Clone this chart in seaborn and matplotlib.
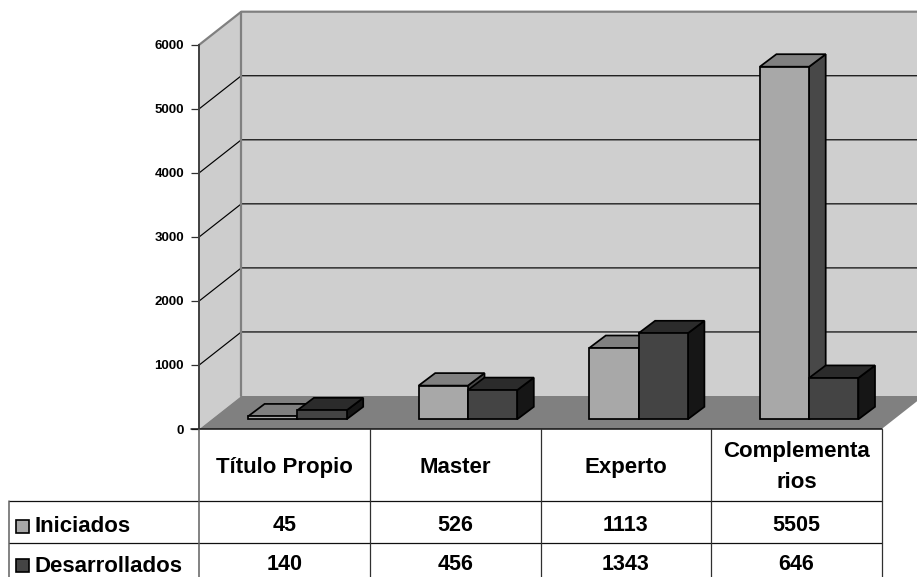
import matplotlib
matplotlib.use("Agg")
import matplotlib.pyplot as plt
import pandas as pd
import seaborn as sns
from matplotlib.patches import Polygon, Rectangle

# data
categories = ["Título Propio", "Master", "Experto", "Complementarios"]
category_labels = [["Título Propio"], ["Master"], ["Experto"], ["Complementa", "rios"]]
series_names = ["Iniciados", "Desarrollados"]
iniciados = [45, 526, 1113, 5505]
desarrollados = [140, 456, 1343, 646]
y_ticks = [0, 1000, 2000, 3000, 4000, 5000, 6000]

W, H = 917, 577
sns.set_theme(style="white")
plt.rcParams["font.family"] = ["Liberation Sans", "DejaVu Sans"]
plt.rcParams["font.weight"] = "bold"

# front colour, top colour, side colour of each series
front_cols = ["#a8a8a8", "#444444"]
top_cols = ["#808080", "#2b2b2b"]
side_cols = ["#484848", "#161616"]


def axes_box(left, right, top, bottom):
    return [left / W, 1 - bottom / H, (right - left) / W, (bottom - top) / H]


fig = plt.figure(figsize=(W / 100, H / 100), dpi=100, facecolor="white")

# overlay in pixels for the data table
tab = fig.add_axes([0, 0, 1, 1], zorder=5)
tab.set_xlim(0, W)
tab.set_ylim(H, 0)
tab.axis("off")

# front plane of the 3d box, holds the value axis
ax = fig.add_axes(axes_box(199.3, 881.7, 44.7, 429), zorder=1)
ax.set_xlim(0, 4)
ax.set_ylim(0, 6000)
ax.patch.set_alpha(0)
for s in ["top", "right", "bottom"]:
    ax.spines[s].set_visible(False)
ax.spines["left"].set_color("#404040")
ax.spines["left"].set_linewidth(1.4)
ax.spines["left"].set_zorder(2)
ax.set_xticks([])
ax.set_yticks(y_ticks)
ax.set_yticklabels([str(t) for t in y_ticks], fontsize=9.5, fontweight="bold", color="black")
ax.tick_params(axis="y", left=True, length=6, width=0.9, color="#303030", pad=5)

# walls and floor
dx = 42 / 170.6
dy = 33 / 0.06405
ax.add_patch(Polygon([(0, 0), (dx, dy), (dx, 6000 + dy), (0, 6000)], fc="#cdcdcd", ec="none", clip_on=False, zorder=0))
ax.add_patch(Polygon([(dx, dy), (4 + dx, dy), (4 + dx, 6000 + dy), (dx, 6000 + dy)], fc="#cfcfcf", ec="none", clip_on=False, zorder=0))
ax.add_patch(Polygon([(0, 0), (4, 0), (4 + dx, dy), (dx, dy)], fc="#808080", ec="none", clip_on=False, zorder=0.5))
for t in y_ticks[1:-1]:
    ax.plot([0, dx, 4 + dx], [t, t + dy, t + dy], color="black", lw=0.85, clip_on=False, zorder=0.6)
ax.plot([0, dx, 4 + dx], [6000, 6000 + dy, 6000 + dy], color="#808080", lw=1.6, clip_on=False, zorder=0.7)
ax.plot([dx, dx], [dy, 6000 + dy], color="#808080", lw=1.6, clip_on=False, zorder=0.7)

# bars sit a bit behind the front plane
bar_ax = fig.add_axes(axes_box(199.3 + 12.7, 881.7 + 12.7, 44.7 - 9.7, 429 - 9.7), zorder=2)
df = pd.DataFrame({
    "categoria": categories * 2,
    "serie": [series_names[0]] * 4 + [series_names[1]] * 4,
    "valor": iniciados + desarrollados,
})
sns.barplot(
    data=df, x="categoria", y="valor", hue="serie", order=categories, hue_order=series_names,
    palette=front_cols, saturation=1, width=0.578, gap=0, legend=False,
    edgecolor="black", linewidth=1.25, ax=bar_ax,
)
bar_ax.set_xlim(-0.5, 3.5)
bar_ax.set_ylim(0, 6000)
bar_ax.axis("off")
bar_ax.patch.set_alpha(0)

# extrude the bars seaborn drew
ddx = 16.6 / 170.6
ddy = 12.5 / 0.06405
for i, cont in enumerate(bar_ax.containers):
    for bar in cont:
        x0, h, w = bar.get_x(), bar.get_height(), bar.get_width()
        x1 = x0 + w
        bar.set_zorder(3 + 2 * i + 1)
        bar.set_clip_on(False)
        bar.set_joinstyle("miter")
        side = [(x1, 0), (x1 + ddx, ddy), (x1 + ddx, h + ddy), (x1, h)]
        top = [(x0, h), (x0 + ddx, h + ddy), (x1 + ddx, h + ddy), (x1, h)]
        bar_ax.add_patch(Polygon(side, fc=side_cols[i], ec="black", lw=1.25, clip_on=False, zorder=3 + 2 * i))
        bar_ax.add_patch(Polygon(top, fc=top_cols[i], ec="black", lw=1.25, clip_on=False, zorder=3 + 2 * i))

# data table
col_x = [199.3, 369.8, 540.5, 711, 881.7]
row_y = [429, 501, 543]
tab.plot([191, col_x[-1]], [row_y[0], row_y[0]], color="#101010", lw=1.1)
for y in row_y[1:]:
    tab.plot([9, col_x[-1]], [y, y], color="#101010", lw=0.9)
for x in col_x[1:]:
    tab.plot([x, x], [row_y[0], H], color="#303030", lw=0.9)
tab.plot([col_x[0], col_x[0]], [row_y[0], H], color="#606060", lw=1.1)
tab.plot([9, 9], [row_y[1], H], color="#606060", lw=1.1)

label_size = 16
for i, lines in enumerate(category_labels):
    xc = (col_x[i] + col_x[i + 1]) / 2
    bases = [457, 488] if len(lines) == 2 else [473]
    for line, base in zip(lines, bases):
        tab.text(xc, base, line, ha="center", va="baseline", fontsize=label_size, fontweight="bold", color="black")
    tab.text(xc, 531, str(iniciados[i]), ha="center", va="baseline", fontsize=15.5, fontweight="bold", color="black")
    tab.text(xc, 570, str(desarrollados[i]), ha="center", va="baseline", fontsize=15.5, fontweight="bold", color="black")

for name, col, yc, base in zip(series_names, front_cols, [526, 565.5], [531.5, 571.5]):
    tab.add_patch(Rectangle((15.5, yc - 6.5), 13, 13, fc=col, ec="black", lw=1.2))
    tab.text(35, base, name, ha="left", va="baseline", fontsize=label_size, fontweight="bold", color="black")

fig.savefig("out.png", dpi=100)
